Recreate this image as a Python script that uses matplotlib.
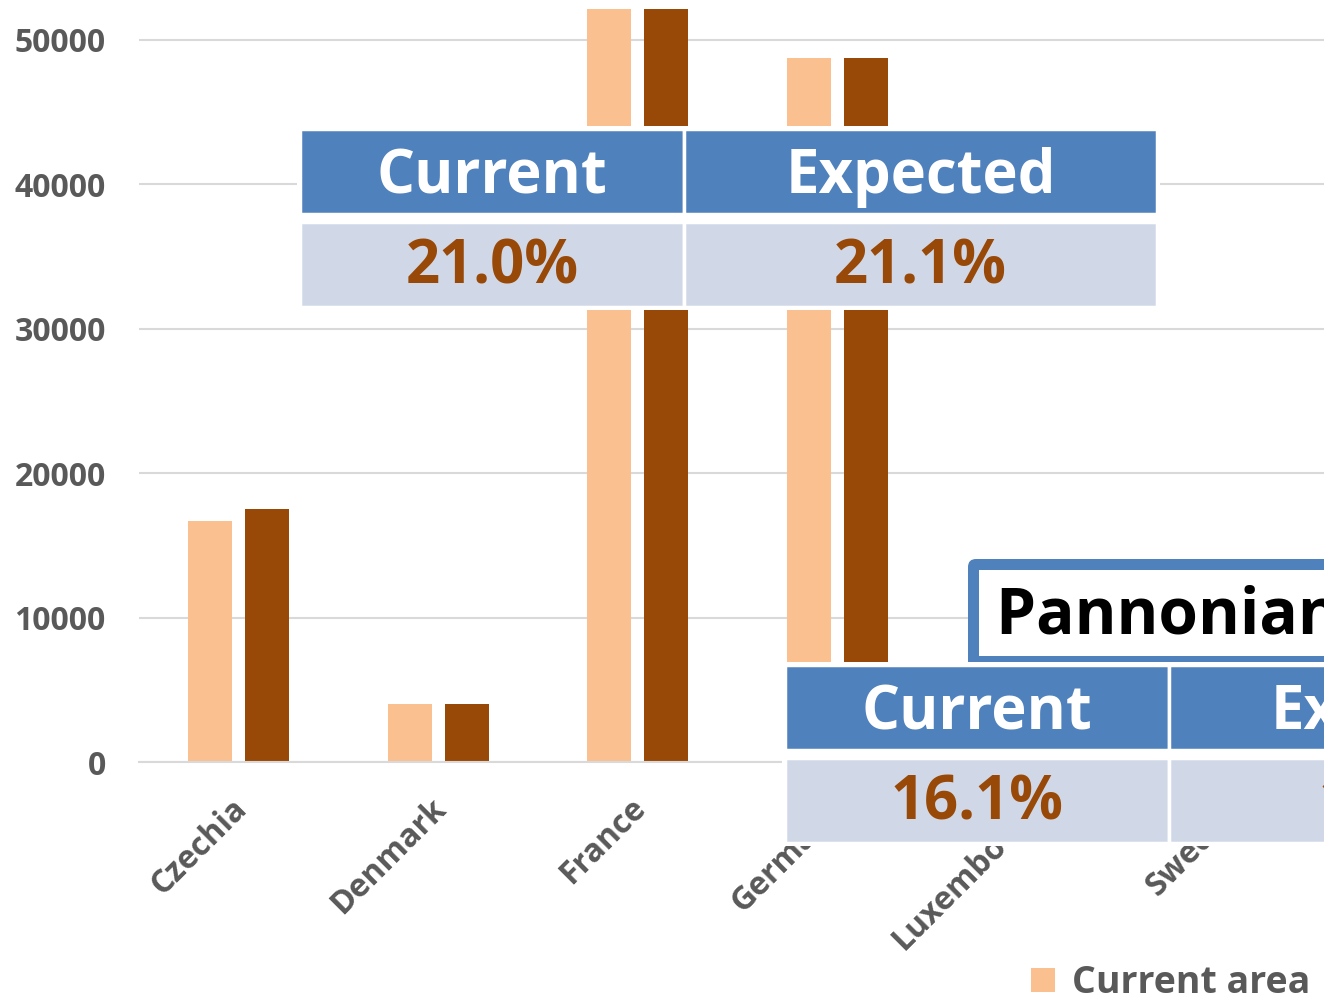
import matplotlib
matplotlib.use('Agg')
import matplotlib.pyplot as plt
import matplotlib.transforms as mtransforms
from matplotlib.patches import Rectangle, FancyBboxPatch
import numpy as np

# country areas (km2); Luxembourg/Sweden are hidden under the table
countries = ['Czechia', 'Denmark', 'France', 'Germany', 'Luxembourg', 'Sweden']
current_area = [16700, 4000, 52150, 48750, 2600, 5000]
expected_area = [17550, 4000, 52150, 48750, 2600, 5000]
y_ticks = [0, 10000, 20000, 30000, 40000, 50000, 60000]

# overlay tables
table_headers = ['Current', 'Expected']
main_shares = ['21.0%', '21.1%']
region_name = 'Pannonian region'
region_shares = ['16.1%', '16.2%']

LIGHT = '#FAC090'
DARK = '#984807'
BLUE = '#4F81BD'
PALE = '#D0D8E8'
GREY = '#595959'
GRID = '#D9D9D9'

plt.rcParams['font.family'] = ['Open Sans', 'DejaVu Sans']
plt.rcParams['font.weight'] = 'bold'

W, H = 1324, 1005
fig = plt.figure(figsize=(W / 100, H / 100), dpi=100)

# main bar axes, deliberately running past the right/top edge like the crop
ax = fig.add_axes([139 / W, 243 / H, 6 * 199.5 / W, 866.4 / H])
x = np.arange(len(countries))
bw = 0.2206
off = 0.143
b1 = ax.bar(x - off, current_area, bw, color=LIGHT, label='Current area', zorder=2)
b2 = ax.bar(x + off, expected_area, bw, color=DARK, label='Expected area', zorder=2)

ax.set_xlim(-0.5, len(countries) - 0.5)
ax.set_ylim(0, 60000)
ax.set_yticks(y_ticks)
ax.yaxis.grid(True, color=GRID, linewidth=1.5)
ax.set_axisbelow(True)
for s in ['top', 'right', 'left']:
    ax.spines[s].set_visible(False)
ax.spines['bottom'].set_color(GRID)
ax.spines['bottom'].set_linewidth(1.5)
ax.tick_params(axis='y', length=0, pad=24, labelsize=23, labelcolor=GREY)
ax.tick_params(axis='x', length=0, pad=30, labelsize=23, labelcolor=GREY)
ax.set_xticks(x)
ax.set_xticklabels(countries, rotation=45, ha='right', va='center', rotation_mode='anchor')
shift = mtransforms.ScaledTranslation(3 / 100, 0, fig.dpi_scale_trans)
for lab in ax.get_xticklabels():
    lab.set_transform(lab.get_transform() + shift)

fig.legend(handles=[b1, b2], loc='upper left', bbox_to_anchor=(1031 / W, 1 - 964 / H),
           ncol=2, frameon=False, fontsize=27, labelcolor=GREY,
           handlelength=0.65, handleheight=0.6, handletextpad=0.45, columnspacing=1.5,
           borderpad=0, borderaxespad=0)

# overlay in pixel coordinates for the tables
ov = fig.add_axes([0, 0, 1, 1])
ov.set_xlim(0, W)
ov.set_ylim(H, 0)
ov.axis('off')


def cell(x0, y0, w, h, color):
    ov.add_patch(Rectangle((x0, y0), w, h, facecolor=color, edgecolor='white', linewidth=2.5))


def share_table(x0, y0, headers, values):
    widths = [384, 473]
    # white backing so the bars and grid don't show between the rows
    ov.add_patch(Rectangle((x0 - 3, y0 - 3), sum(widths) + 6, 184, facecolor='white', edgecolor='none'))
    cx = x0
    for w, hd, v in zip(widths, headers, values):
        cell(cx, y0, w, 85, BLUE)
        cell(cx, y0 + 93, w, 85, PALE)
        ov.text(cx + w / 2, y0 + 64, hd, color='white', fontsize=43, ha='center', va='baseline')
        ov.text(cx + w / 2, y0 + 154, v, color=DARK, fontsize=43, ha='center', va='baseline')
        cx += w


share_table(300, 129, table_headers, main_shares)

# region title box
ov.add_patch(FancyBboxPatch((968, 559), 900, 110, boxstyle='round,pad=0,rounding_size=8',
                            facecolor=BLUE, edgecolor=BLUE, linewidth=0))
ov.add_patch(Rectangle((979, 570), 900, 86, facecolor='white', edgecolor='none'))
ov.text(996, 634, region_name, color='black', fontsize=46, ha='left', va='baseline')

share_table(785, 665, table_headers, region_shares)

fig.savefig('out.png', dpi=100)
